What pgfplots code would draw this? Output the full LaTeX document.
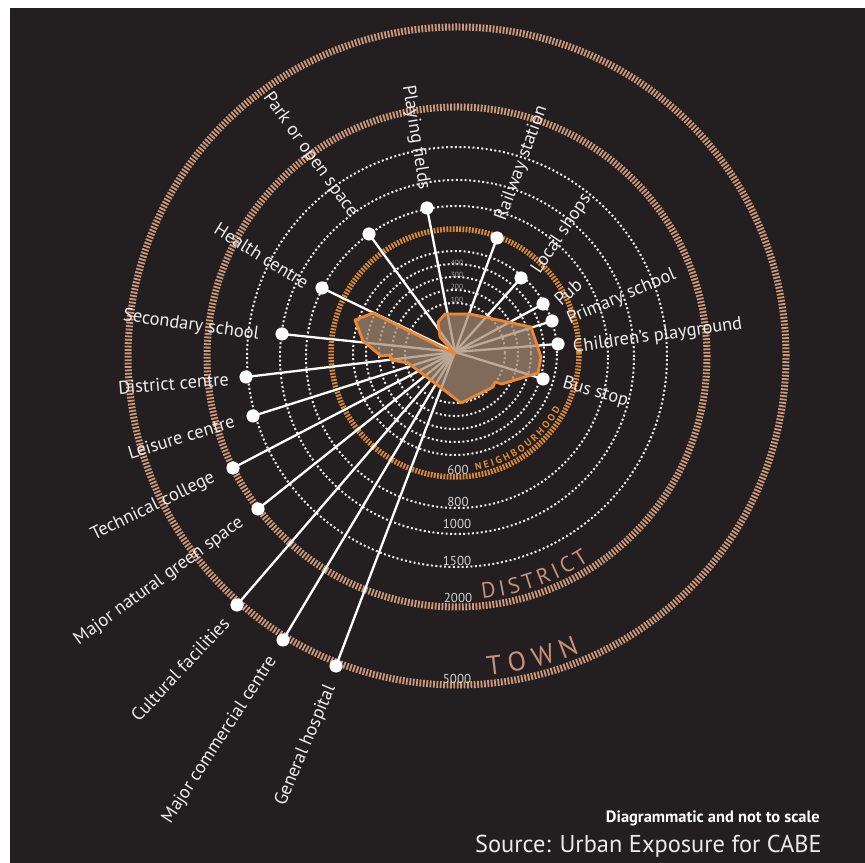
\documentclass[border=0pt]{standalone}
\usepackage{pgfplots}
\pgfplotsset{compat=1.18}
\usepackage{pgfplotstable}
\usepackage{fontspec}
\setmainfont{PT Sans}
\usetikzlibrary{decorations.text}

\definecolor{bg}{HTML}{231F20}
\definecolor{nbh}{HTML}{DC8A3A}
\definecolor{ring}{HTML}{CF9878}
\definecolor{poly}{HTML}{A4886F}
\definecolor{polyline}{HTML}{EA8836}
\definecolor{txt}{HTML}{EEECEC}
\definecolor{ringtxt}{HTML}{C99079}

% spoke end points, pixels from the centre (x right, y up)
\pgfplotstableread{
x     y
-28   144
42    114
66    74
88    48
97    31
103   8
88    -27
-86   118
-133  64
-173  18
-209  -25
-202  -64
-222  -116
-197  -157
-218  -253
-172  -288
-119  -314
}\spokes

\tikzset{
  dots/.style={white!92!black, line width=2bp, dash pattern=on 2bp off 2.4bp},
  band/.style={ring, line width=7bp, dash pattern=on 1.8bp off 1.6bp},
  lbl/.style={text=txt, inner sep=0pt, font=\fontsize{18.5}{18.5}\selectfont},
  rnum/.style={text=white!82!black, inner sep=0pt, font=\fontsize{13}{13}\selectfont},
  inum/.style={text=white!65!black, inner sep=0pt, font=\fontsize{7.5}{7.5}\selectfont},
}

\begin{document}
\begin{tikzpicture}
\begin{axis}[
  x=1bp, y=1bp,
  xmin=-455, xmax=410, ymin=-511, ymax=352,
  hide axis, clip=false,
]
% background
\fill[white] (axis cs:-455,-511) rectangle (axis cs:410,352);
\fill[bg] (axis cs:-445,-511) rectangle (axis cs:410,344);

% inner rings
\pgfplotsinvokeforeach{50,63,76,89,102}{
  \draw[dots] (axis cs:0,-1) circle[radius=#1bp];
}
\draw[nbh, line width=5.5bp, dash pattern=on 1.8bp off 1.4bp] (axis cs:0,-1) circle[radius=124bp];
% outer rings
\pgfplotsinvokeforeach{151,177,210}{
  \draw[dots] (axis cs:2,-5) circle[radius=#1bp];
}
\draw[band] (axis cs:2,-5) circle[radius=250bp];
\draw[band] (axis cs:2,-4) circle[radius=329bp];

% ring labels
\node[rnum] at (axis cs:3,-118) {600};
\node[rnum] at (axis cs:3,-150) {800};
\node[rnum] at (axis cs:2,-172) {1000};
\node[rnum] at (axis cs:2,-209) {1500};
\node[rnum] at (axis cs:3,-246) {2000};
\node[rnum] at (axis cs:2,-327) {5000};
\node[inum] at (axis cs:2,89) {400};
\node[inum] at (axis cs:2,77) {300};
\node[inum] at (axis cs:2,65) {200};
\node[inum] at (axis cs:2,52) {100};

\path[decorate, decoration={text along path, text align=fit to path,
  text={|\fontsize{10}{10}\selectfont\bfseries\color{nbh}|NEIGHBOURHOOD}}]
  ([shift={(-80:119.5bp)}]axis cs:0,-1) arc[start angle=-80, end angle=-28, radius=119.5bp];
\path[decorate, decoration={text along path, text align=fit to path,
  text={|\fontsize{22}{22}\selectfont\color{ringtxt}|DISTRICT}}]
  ([shift={(-84:243bp)}]axis cs:2,-5) arc[start angle=-84, end angle=-57, radius=243bp];
\path[decorate, decoration={text along path, text align=fit to path,
  text={|\fontsize{27}{27}\selectfont\color{ringtxt}|TOWN}}]
  ([shift={(-84.5:321bp)}]axis cs:2,-4) arc[start angle=-84.5, end angle=-67.5, radius=321bp];

% spokes
\addplot[white, line width=2.3bp, -, quiver={u=\thisrow{x}, v=\thisrow{y}}]
  table[x expr=0, y expr=0] {\spokes};

% catchment polygon
\addplot[draw=polyline, fill=poly, fill opacity=0.72, line width=2.8bp, line join=round]
  coordinates {
  (0,-2) (-82,39) (-100,32) (-92,11) (-74,-4) (-65,-3) (-64,-8) (-47,-11)
  (-15,-35) (6,-51) (38,-35) (40,-30) (47,-32) (83,-21) (86,-5) (76,25)
  (15,38) (-10,38) (-17,30) (-15,15) (0,-2)
  } -- cycle;

% end points
\addplot[only marks, mark=*, mark size=6.3bp, mark options={fill=white, draw=white}]
  table[x=x, y=y] {\spokes};

% labels, right side
\node[lbl, anchor=west, rotate=70] at (axis cs:46,132) {Railway station};
\node[lbl, anchor=west, rotate=56] at (axis cs:81,80) {Local shops};
\node[lbl, anchor=west, rotate=42] at (axis cs:102,50) {Pub};
\node[lbl, anchor=west, rotate=23] at (axis cs:113,32) {Primary school};
\node[lbl, anchor=west, rotate=8] at (axis cs:118,4) {Children’s playground};
\node[lbl, anchor=west, rotate=-16] at (axis cs:108,-31) {Bus stop};
% labels, left side
\node[lbl, anchor=east, rotate=-81] at (axis cs:-31,162) {Playing fields};
\node[lbl, anchor=east, rotate=-54] at (axis cs:-101,137) {Park or open space};
\node[lbl, anchor=east, rotate=-32] at (axis cs:-148,68) {Health centre};
\node[lbl, anchor=east, rotate=-8] at (axis cs:-196,17) {Secondary school};
\node[lbl, anchor=east, rotate=4.5] at (axis cs:-226,-27) {District centre};
\node[lbl, anchor=east, rotate=17] at (axis cs:-221,-69) {Leisure centre};
\node[lbl, anchor=east, rotate=26] at (axis cs:-241,-125) {Technical college};
\node[lbl, anchor=east, rotate=36] at (axis cs:-213,-169) {Major natural green space};
\node[lbl, anchor=east, rotate=47] at (axis cs:-229,-268) {Cultural facilities};
\node[lbl, anchor=east, rotate=57] at (axis cs:-182,-306) {Major commercial centre};
\node[lbl, anchor=east, rotate=67] at (axis cs:-124,-334) {General hospital};

% notes
\node[anchor=east, inner sep=0pt, text=white, font=\bfseries\fontsize{16.5}{16.5}\selectfont]
  at (axis cs:365,-466) {Diagrammatic and not to scale};
\node[anchor=east, inner sep=0pt, text=white!92!black, font=\fontsize{24.5}{24.5}\selectfont]
  at (axis cs:367,-494) {Source: Urban Exposure for CABE};
\end{axis}
\end{tikzpicture}
\end{document}
